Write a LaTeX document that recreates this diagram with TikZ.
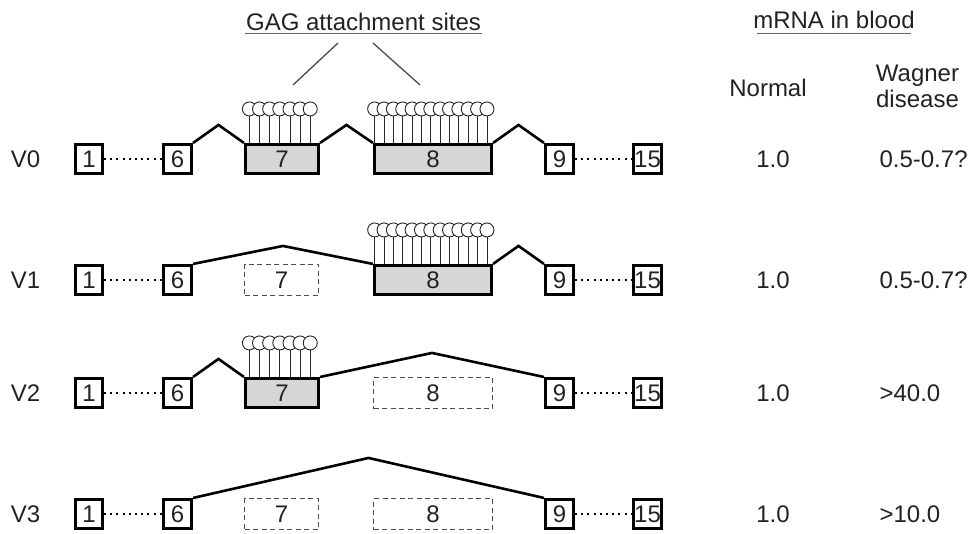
\documentclass[tikz,border=0pt]{standalone}
\usepackage{fontspec}
\setmainfont{Liberation Sans}
\usetikzlibrary{calc}

\definecolor{txt}{HTML}{222222}
\definecolor{exonfill}{HTML}{D6D6D6}
\newcommand\labelsize{\fontsize{24}{27}\selectfont}

% Lollipop GAG chains on top of an exon:
% #1 exon node, #2 first offset, #3 spacing, #4 count
\newcommand\gagsites[4]{%
  \foreach \i in {1,...,#4}{%
    \draw[stem] ($(#1.north west)+({#2+#3*(\i-1)},0)$) -- ++(0,-27);
  }%
  \foreach \i in {1,...,#4}{%
    \node[head] (#1-h\i) at ($(#1.north west)+({#2+#3*(\i-1)},-34)$) {};
  }%
}
% Splice junction between two exons, peak raised by #3
\newcommand\splice[3]{%
  \draw[intron] (#1.north east) -- ($(#1.north east)!.5!(#2.north west)+(0,-#3)$) -- (#2.north west);
}

\begin{document}
\begin{tikzpicture}[x=1pt,y=-1pt,
  every node/.style={font=\labelsize, text=txt},
  exon/.style={draw=black, line width=2.6pt, minimum height=29.5pt, inner sep=0pt},
  gagexon/.style={exon, fill=exonfill},
  skipped/.style={draw=black!70, line width=1.3pt, dash pattern=on 5pt off 3.5pt,
                  minimum height=31pt, inner sep=0pt},
  intron/.style={line width=2.6pt, line join=miter},
  dots/.style={line width=2.4pt, dash pattern=on 2pt off 4.2pt},
  stem/.style={line width=0.9pt, draw=black!85},
  head/.style={circle, draw=black!85, fill=white, minimum size=14pt, inner sep=0pt, line width=0.9pt},
  pointer/.style={line width=1.3pt, draw=black!70},
  underline/.style={line width=1.5pt, draw=black!60}]

\path[use as bounding box] (0,0) rectangle (976,534);

% column headers
\node[anchor=base] (gag) at (363.5,30.5) {GAG attachment sites};
\draw[underline] (245,33.5) -- (482,33.5);
\coordinate (gagL) at (293,85);
\coordinate (gagR) at (420,85);
\draw[pointer] (338,43) -- (gagL);
\draw[pointer] (373,43) -- (gagR);

\node[anchor=base] (mrna) at (834,29) {mRNA in blood};
\draw[underline] (757,33.5) -- (911,33.5);
\node[anchor=base] (normal) at (768,96.5) {Normal};
\node[anchor=base] (wag) at (917.5,82) {Wagner};
\node[anchor=base] (dis) at (917.5,108) {disease};

% exons shared by all four transcripts
\foreach \r/\y/\w in {0/159/0.5-0.7?,1/280/0.5-0.7?,2/393/>40.0,3/514/>10.0}{
  \node (v\r) at (25.5,\y) {V\r};
  \node[exon, minimum width=27.5pt] (x1-\r) at (89,\y) {1};
  \node[exon, minimum width=28.5pt] (x6-\r) at (177.5,\y) {6};
  \node[exon, minimum width=28.5pt] (x9-\r) at (559.5,\y) {9};
  \node[exon, minimum width=28.5pt] (x15-\r) at (647.5,\y) {15};
  \draw[dots] (x1-\r) -- (x6-\r);
  \draw[dots] (x9-\r) -- (x15-\r);
  \node (n\r) at (773,\y) {1.0};
  \node[anchor=west] (w\r) at (876,\y) {\w};
}

% exons 7 and 8: included or skipped
\node[gagexon, minimum width=73.5pt]  (x7-0) at (282,159) {7};
\node[gagexon, minimum width=117.5pt] (x8-0) at (433,159) {8};
\node[skipped, minimum width=74pt]    (x7-1) at (281.5,280) {7};
\node[gagexon, minimum width=117.5pt] (x8-1) at (433,280) {8};
\node[gagexon, minimum width=73.5pt]  (x7-2) at (282,393) {7};
\node[skipped, minimum width=119pt]   (x8-2) at (433,393) {8};
\node[skipped, minimum width=74pt]    (x7-3) at (281.5,514) {7};
\node[skipped, minimum width=119pt]   (x8-3) at (433,514) {8};

% splicing
\splice{x6-0}{x7-0}{18}
\splice{x7-0}{x8-0}{18}
\splice{x8-0}{x9-0}{18}
\splice{x6-1}{x8-1}{18}
\splice{x8-1}{x9-1}{18}
\splice{x6-2}{x7-2}{18}
\splice{x7-2}{x9-2}{24}
\splice{x6-3}{x9-3}{40}

% GAG chains
\gagsites{x7-0}{5.4}{10.15}{7}
\gagsites{x8-0}{1.7}{9.36}{13}
\gagsites{x8-1}{1.7}{9.36}{13}
\gagsites{x7-2}{5.4}{10.15}{7}

\end{tikzpicture}
\end{document}
